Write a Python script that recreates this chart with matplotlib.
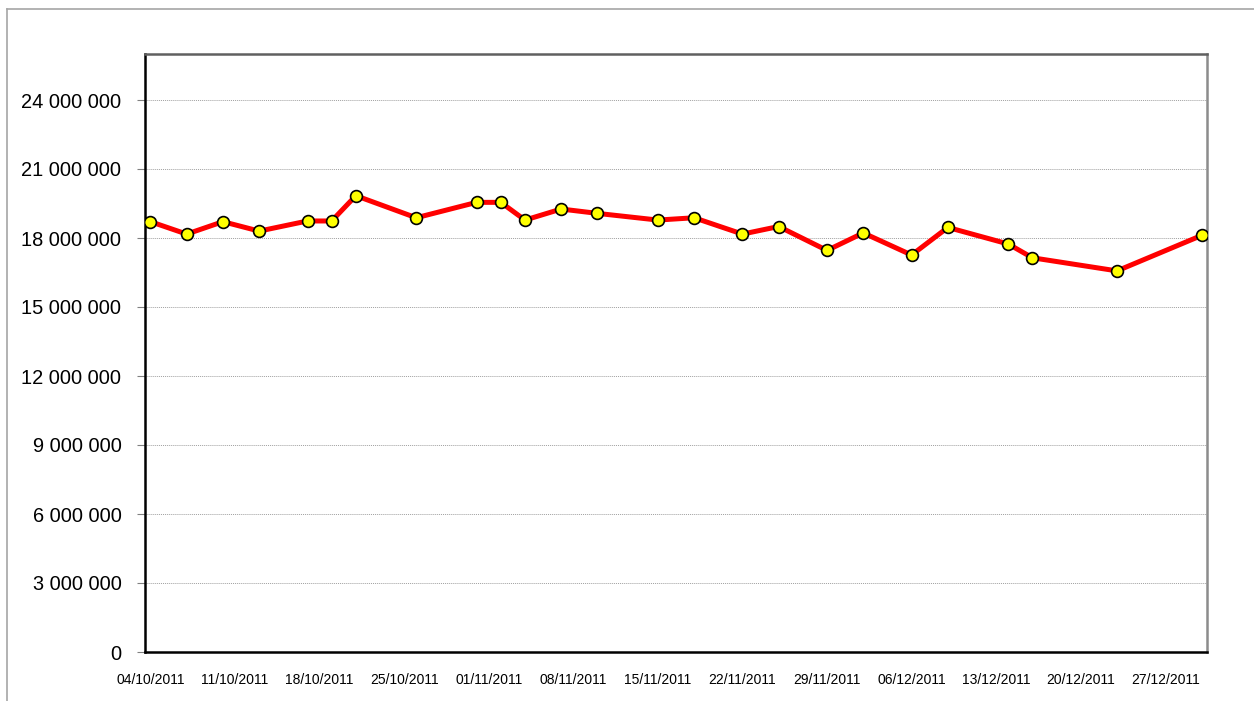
import datetime as dt

import matplotlib
matplotlib.use("Agg")
import matplotlib.dates as mdates
import matplotlib.pyplot as plt
from matplotlib.lines import Line2D

plt.rcParams['font.family'] = ['Liberation Sans', 'DejaVu Sans']

# data
dates = ["04/10/2011", "07/10/2011", "10/10/2011", "13/10/2011", "17/10/2011",
         "19/10/2011", "21/10/2011", "26/10/2011", "31/10/2011", "02/11/2011",
         "04/11/2011", "07/11/2011", "10/11/2011", "15/11/2011", "18/11/2011",
         "22/11/2011", "25/11/2011", "29/11/2011", "02/12/2011", "06/12/2011",
         "09/12/2011", "14/12/2011", "16/12/2011", "23/12/2011", "30/12/2011"]
values = [18710000, 18170000, 18710000, 18300000, 18740000,
          18740000, 19840000, 18880000, 19550000, 19550000,
          18780000, 19260000, 19070000, 18780000, 18880000,
          18170000, 18500000, 17460000, 18220000, 17260000,
          18460000, 17740000, 17140000, 16570000, 18110000]
tick_dates = ["04/10/2011", "11/10/2011", "18/10/2011", "25/10/2011", "01/11/2011",
              "08/11/2011", "15/11/2011", "22/11/2011", "29/11/2011", "06/12/2011",
              "13/12/2011", "20/12/2011", "27/12/2011"]
y_ticks = list(range(0, 24000001, 3000000))

x = [dt.datetime.strptime(d, "%d/%m/%Y") for d in dates]
xt = [dt.datetime.strptime(d, "%d/%m/%Y") for d in tick_dates]

fig = plt.figure(figsize=(12.54, 7.01), dpi=100)
ax = fig.add_axes([145 / 1254, 1 - 652 / 701, (1207 - 145) / 1254, (652 - 54) / 701])

# outer chart-area border (only top and left visible)
fig.add_artist(Line2D([7 / 1254, 1.01], [1 - 9 / 701, 1 - 9 / 701],
                      transform=fig.transFigure, color='#a6a6a6', lw=1.2))
fig.add_artist(Line2D([7 / 1254, 7 / 1254], [-0.01, 1 - 9 / 701],
                      transform=fig.transFigure, color='#a6a6a6', lw=1.2))

ax.plot(x, values, color='#ff0000', lw=3.6, marker='o', markersize=8.5,
        markerfacecolor='#ffff00', markeredgecolor='black', markeredgewidth=1.2,
        zorder=3)

ax.set_ylim(0, 26000000)
ax.set_yticks(y_ticks)
ax.set_yticklabels([f"{v:,}".replace(",", " ") for v in y_ticks], fontsize=14.4)
ax.yaxis.grid(True, color='#a0a0a0', lw=0.7, ls=(0, (1, 1)))
ax.set_axisbelow(True)

pad = dt.timedelta(days=0.45)
ax.set_xlim(x[0] - pad, x[-1] + pad)
ax.set_xticks(xt)
ax.xaxis.set_major_formatter(mdates.DateFormatter("%d/%m/%Y"))
ax.tick_params(axis='x', length=0, pad=15, labelsize=10)
ax.tick_params(axis='y', length=6, width=0.8, color='#808080', pad=11)

ax.spines['left'].set_color('black')
ax.spines['left'].set_linewidth(1.8)
ax.spines['bottom'].set_color('black')
ax.spines['bottom'].set_linewidth(1.8)
ax.spines['top'].set_color('#606060')
ax.spines['top'].set_linewidth(1.8)
ax.spines['right'].set_color('#8c8c8c')
ax.spines['right'].set_linewidth(1.8)

fig.savefig("out.png", dpi=100)
